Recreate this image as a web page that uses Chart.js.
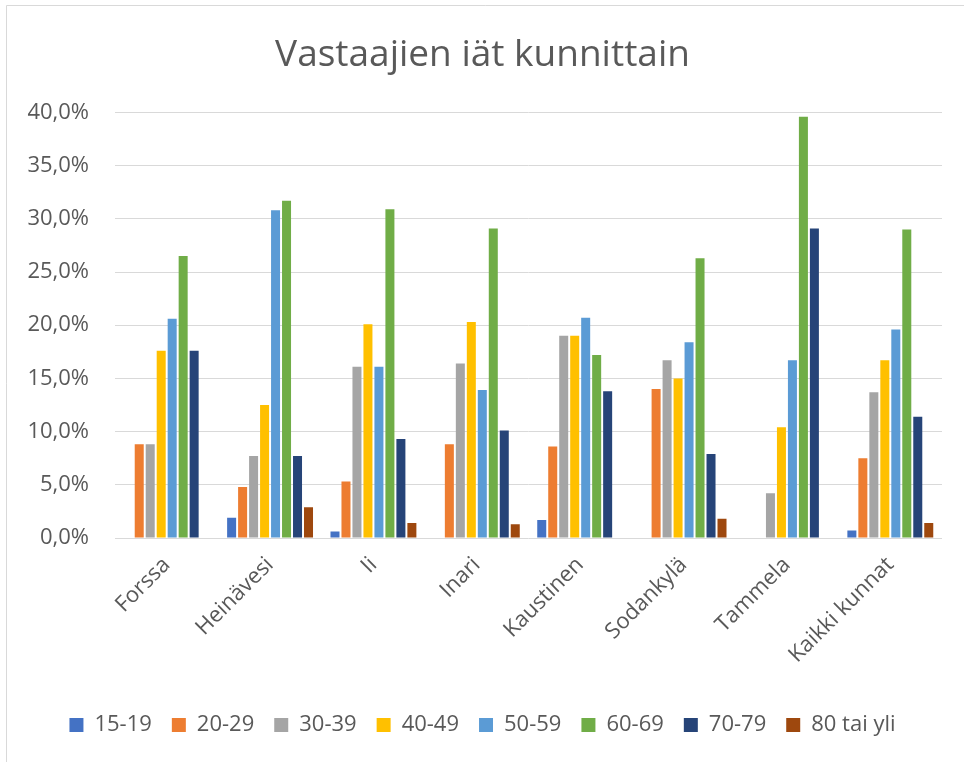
<!DOCTYPE html>
<html>
<head>
<meta charset="utf-8">
<script src="https://cdn.jsdelivr.net/npm/chart.js@4/dist/chart.umd.min.js"></script>
<style>
  html, body { margin: 0; padding: 0; background: #ffffff; }
  #wrap { width: 964px; height: 762px; }
</style>
</head>
<body>
<div id="wrap"><canvas id="myChart" width="964" height="762"></canvas></div>
<script>
// data (percent)
const kunnat = ['Forssa', 'Heinävesi', 'Ii', 'Inari', 'Kaustinen', 'Sodankylä', 'Tammela', 'Kaikki kunnat']
const ikaryhmat = ['15-19', '20-29', '30-39', '40-49', '50-59', '60-69', '70-79', '80 tai yli']

const ika15_19 = [0, 1.9, 0.6, 0, 1.7, 0, 0, 0.7]
const ika20_29 = [8.8, 4.8, 5.3, 8.8, 8.6, 14.0, 0, 7.5]
const ika30_39 = [8.8, 7.7, 16.1, 16.4, 19.0, 16.7, 4.2, 13.7]
const ika40_49 = [17.6, 12.5, 20.1, 20.3, 19.0, 15.0, 10.4, 16.7]
const ika50_59 = [20.6, 30.8, 16.1, 13.9, 20.7, 18.4, 16.7, 19.6]
const ika60_69 = [26.5, 31.7, 30.9, 29.1, 17.2, 26.3, 39.6, 29.0]
const ika70_79 = [17.6, 7.7, 9.3, 10.1, 13.8, 7.9, 29.1, 11.4]
const ika80 = [0, 2.9, 1.4, 1.3, 0, 1.8, 0, 1.4]

const yTicks = [0, 5, 10, 15, 20, 25, 30, 35, 40]

const sarjat = [ika15_19, ika20_29, ika30_39, ika40_49, ika50_59, ika60_69, ika70_79, ika80]
const varit = ['#4472C4', '#ED7D31', '#A5A5A5', '#FFC000', '#5B9BD5', '#70AD47', '#264478', '#9E480E']

const teksti = '#595959'
const fontti = "'Open Sans', 'Noto Sans', sans-serif"

const ctx = document.querySelector('#myChart').getContext('2d')

// thin frame round the chart, like the office chart has
const frame = {
  id: 'frame',
  beforeDraw: (chart) => {
    const { ctx } = chart
    ctx.save()
    ctx.fillStyle = '#ffffff'
    ctx.fillRect(0, 0, chart.width, chart.height)
    ctx.strokeStyle = '#d9d9d9'
    ctx.lineWidth = 1
    ctx.beginPath()
    ctx.moveTo(6.5, chart.height)
    ctx.lineTo(6.5, 5.5)
    ctx.lineTo(chart.width, 5.5)
    ctx.stroke()
    ctx.restore()
  }
}

const data = {
  labels: kunnat,
  datasets: ikaryhmat.map((nimi, i) => ({
    label: nimi,
    data: sarjat[i],
    backgroundColor: varit[i],
    borderWidth: 0,
    categoryPercentage: 0.85,
    barPercentage: 0.82
  }))
}

const config = {
  type: 'bar',
  data: data,
  plugins: [frame],
  options: {
    responsive: false,
    animation: false,
    layout: {
      padding: { left: 23, right: 22, top: 0, bottom: 16 }
    },
    scales: {
      y: {
        min: 0,
        max: 40,
        afterBuildTicks: (scale) => {
          scale.ticks = yTicks.map(v => ({ value: v }))
        },
        afterFit: (scale) => { scale.width = 92 },
        border: { display: false },
        grid: { color: '#d9d9d9', lineWidth: 1, drawTicks: false },
        ticks: {
          padding: 26,
          color: teksti,
          font: { family: fontti, size: 22 },
          callback: (value) => value.toFixed(1).replace('.', ',') + '%'
        }
      },
      x: {
        afterFit: (scale) => { scale.height = 156 },
        border: { display: false },
        grid: { display: false, drawTicks: false },
        ticks: {
          padding: 14,
          minRotation: 45,
          maxRotation: 45,
          color: teksti,
          font: { family: fontti, size: 22 }
        }
      }
    },
    plugins: {
      title: {
        display: true,
        text: 'Vastaajien iät kunnittain',
        color: teksti,
        font: { family: fontti, size: 37, weight: 'normal' },
        padding: { top: 33, bottom: 35 }
      },
      legend: {
        position: 'bottom',
        labels: {
          boxWidth: 14,
          boxHeight: 14,
          padding: 20,
          color: teksti,
          font: { family: fontti, size: 22 }
        }
      },
      tooltip: { enabled: false }
    }
  }
}

const myChart = new Chart(ctx, config)
</script>
</body>
</html>
